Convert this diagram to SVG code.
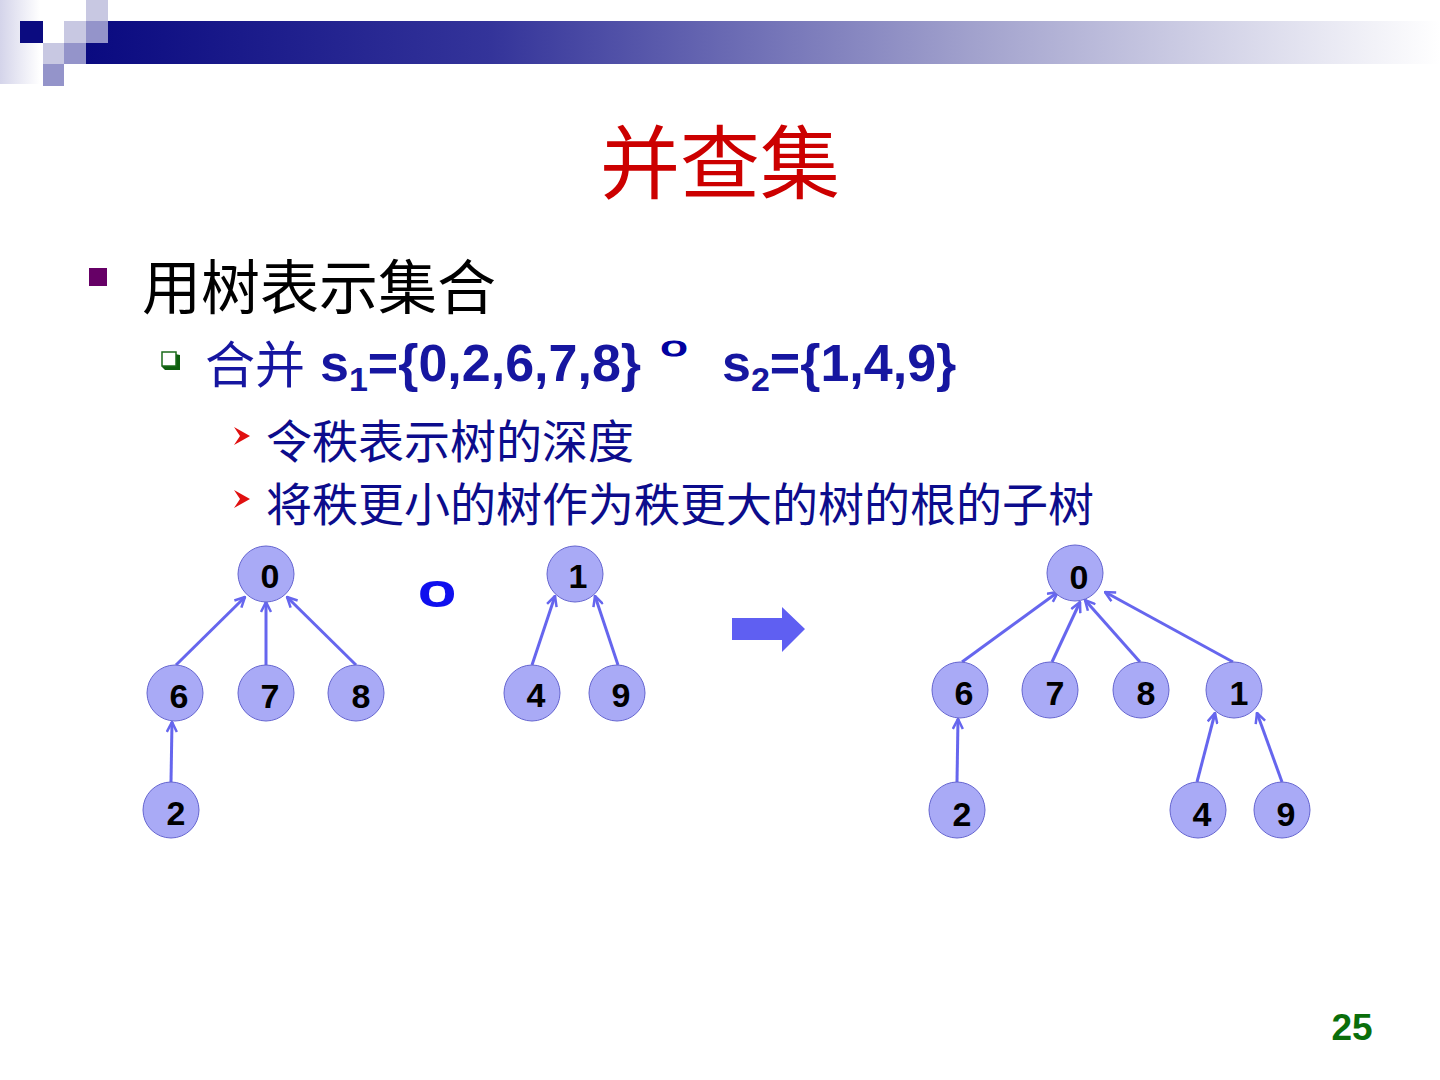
<svg xmlns="http://www.w3.org/2000/svg" width="1440" height="1080" viewBox="0 0 1440 1080">
<defs>
<linearGradient id="bar" x1="0" y1="0" x2="1" y2="0">
<stop offset="0" stop-color="#0a0a80"/>
<stop offset="0.3" stop-color="#34349a"/>
<stop offset="0.65" stop-color="#a0a0cc"/>
<stop offset="1" stop-color="#ffffff"/>
</linearGradient>
<linearGradient id="side" x1="0" y1="0" x2="1" y2="0">
<stop offset="0" stop-color="#d4d4ea"/>
<stop offset="1" stop-color="#ffffff"/>
</linearGradient>
<marker id="ah" viewBox="0 0 12 12" refX="11" refY="6" markerWidth="12" markerHeight="12" markerUnits="userSpaceOnUse" orient="auto">
<path d="M1,1 L11,6 L1,11" fill="none" stroke="#6666ee" stroke-width="2.5"/>
</marker>
<style>
.edge{stroke:#6666ee;stroke-width:3;fill:none;marker-end:url(#ah)}
.nd circle{fill:#a9aaf6;stroke:#6565d0;stroke-width:1}
.nd text{font-family:"Liberation Sans",Arial,sans-serif;font-weight:bold;font-size:34px;fill:#000;text-anchor:middle}
.cjk{font-family:"Noto Sans CJK SC","Noto Sans",sans-serif}
.lat{font-family:"Liberation Sans",Arial,sans-serif;font-weight:bold}
.ring{font-family:"Liberation Sans",Arial,sans-serif;font-weight:normal;text-anchor:middle}
</style>
</defs>
<rect width="1440" height="1080" fill="#fff"/>
<!-- header -->
<g id="header">
<rect x="0" y="0" width="40" height="84" fill="url(#side)"/>
<rect x="86" y="21" width="1354" height="43" fill="url(#bar)"/>
<rect x="20" y="21" width="23" height="22" fill="#0b0b80"/>
<rect x="86" y="0" width="22" height="21" fill="#c8c8e2"/>
<rect x="64" y="21" width="22" height="22" fill="#c8c8e2"/>
<rect x="86" y="21" width="22" height="22" fill="#9494ca"/>
<rect x="43" y="43" width="21" height="21" fill="#c8c8e2"/>
<rect x="64" y="43" width="22" height="21" fill="#9494ca"/>
<rect x="43" y="64" width="21" height="22" fill="#9494ca"/>
</g>
<text x="720" y="192" class="cjk" font-size="80" fill="#cc0000" text-anchor="middle">并查集</text>
<!-- bullets -->
<rect x="89" y="268" width="18" height="18" fill="#660066"/>
<text x="142" y="309" class="cjk" font-size="59" fill="#000">用树表示集合</text>
<polygon points="165,352 180,355 180,370 165,370 162,367" fill="#0e5e0e"/>
<rect x="162" y="352" width="14" height="14" fill="#fff" stroke="#1a6b1a" stroke-width="1.5"/>
<text x="205" y="383" class="cjk" font-size="50" fill="#1616a0">合并</text>
<text x="320" y="381" class="lat" font-size="52" fill="#1616a0">s<tspan font-size="34" dy="10">1</tspan><tspan dy="-10">={0,2,6,7,8}</tspan></text>
<text transform="translate(674,356) scale(1.8,1)" class="ring" font-size="27" fill="#0000a0" stroke="#0000a0" stroke-width="1">o</text>
<text x="722" y="381" class="lat" font-size="52" fill="#1616a0">s<tspan font-size="34" dy="10">2</tspan><tspan dy="-10">={1,4,9}</tspan></text>
<polygon points="234,427 250,436 234,445 240,436" fill="#e01010"/>
<text x="266" y="458" class="cjk" font-size="46" fill="#0c0c8c">令秩表示树的深度</text>
<polygon points="234,490 250,499 234,508 240,499" fill="#e01010"/>
<text x="266" y="521" class="cjk" font-size="46" fill="#0c0c8c">将秩更小的树作为秩更大的树的根的子树</text>
<!-- composition symbol -->
<text transform="translate(437,606) scale(1.5,1)" class="ring" font-size="44" fill="#1010ee" stroke="#1010ee" stroke-width="1.8">o</text>
<!-- big arrow -->
<polygon points="732,618 782,618 782,607 805,629 782,652 782,640 732,640" fill="#5f5ff2"/>
<!-- connectors -->
<g id="connectors">
<line class="edge" x1="176" y1="665" x2="245" y2="597"/>
<line class="edge" x1="266" y1="665" x2="266" y2="602"/>
<line class="edge" x1="356" y1="665" x2="287" y2="597"/>
<line class="edge" x1="171" y1="782" x2="172" y2="722"/>
<line class="edge" x1="532" y1="665" x2="555" y2="596"/>
<line class="edge" x1="618" y1="665" x2="595" y2="596"/>
<line class="edge" x1="962" y1="662" x2="1058" y2="592"/>
<line class="edge" x1="1052" y1="662" x2="1080" y2="602"/>
<line class="edge" x1="1140" y1="662" x2="1085" y2="600"/>
<line class="edge" x1="1233" y1="662" x2="1105" y2="592"/>
<line class="edge" x1="957" y1="782" x2="958" y2="719"/>
<line class="edge" x1="1197" y1="782" x2="1215" y2="713"/>
<line class="edge" x1="1282" y1="782" x2="1257" y2="713"/>
</g>
<!-- left tree -->
<g id="L0" class="nd"><circle cx="266" cy="574" r="28"/><text x="270" y="588">0</text></g>
<g id="L6" class="nd"><circle cx="175" cy="693" r="28"/><text x="179" y="708">6</text></g>
<g id="L7" class="nd"><circle cx="266" cy="693" r="28"/><text x="270" y="708">7</text></g>
<g id="L8" class="nd"><circle cx="356" cy="693" r="28"/><text x="361" y="708">8</text></g>
<g id="L2" class="nd"><circle cx="171" cy="810" r="28"/><text x="176" y="825">2</text></g>
<g id="M1" class="nd"><circle cx="575" cy="574" r="28"/><text x="578" y="588">1</text></g>
<g id="M4" class="nd"><circle cx="532" cy="693" r="28"/><text x="536" y="707">4</text></g>
<g id="M9" class="nd"><circle cx="617" cy="693" r="28"/><text x="621" y="707">9</text></g>
<!-- result tree -->
<g id="R0" class="nd"><circle cx="1075" cy="573" r="28"/><text x="1079" y="589">0</text></g>
<g id="R6" class="nd"><circle cx="960" cy="690" r="28"/><text x="964" y="705">6</text></g>
<g id="R7" class="nd"><circle cx="1050" cy="690" r="28"/><text x="1055" y="705">7</text></g>
<g id="R8" class="nd"><circle cx="1141" cy="690" r="28"/><text x="1146" y="705">8</text></g>
<g id="R1" class="nd"><circle cx="1234" cy="690" r="28"/><text x="1239" y="705">1</text></g>
<g id="R2" class="nd"><circle cx="957" cy="810" r="28"/><text x="962" y="826">2</text></g>
<g id="R4" class="nd"><circle cx="1198" cy="810" r="28"/><text x="1202" y="826">4</text></g>
<g id="R9" class="nd"><circle cx="1282" cy="810" r="28"/><text x="1286" y="826">9</text></g>
<text x="1352" y="1040" class="lat" font-size="37" fill="#0a6e0a" text-anchor="middle">25</text>
</svg>
